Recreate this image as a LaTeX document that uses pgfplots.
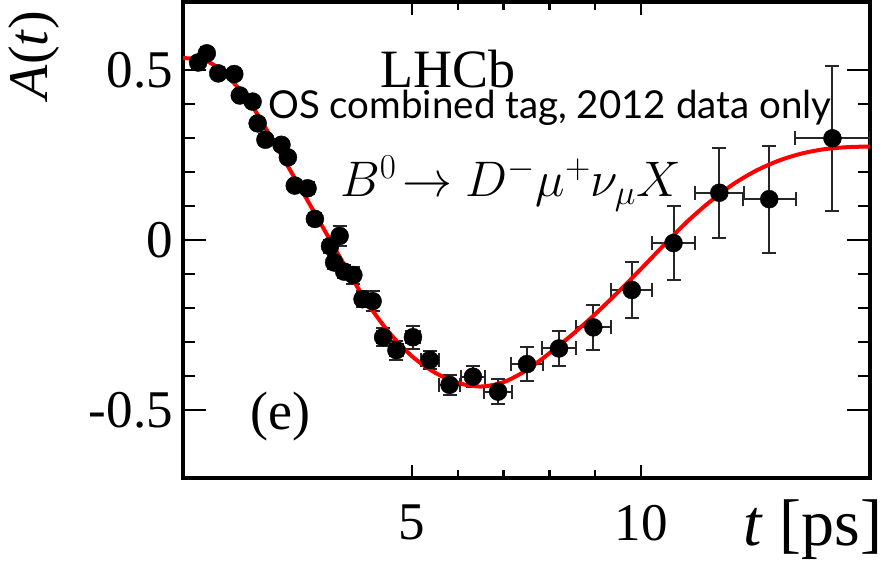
\RequirePackage{fix-cm}
\documentclass[border=0pt]{standalone}
\usepackage{fontspec}
\setmainfont{Liberation Serif}
\newfontfamily\serif{Liberation Serif}
\newfontfamily\osfont{Lato}
\usepackage{pgfplots}
\usepackage{pgfplotstable}
\pgfplotsset{compat=1.18}

\pgfplotstableread{
t     A       ex     ey
0.33  0.522   0.12   0.015
0.52  0.549   0.12   0.015
0.77  0.490   0.12   0.015
1.12  0.488   0.12   0.015
1.24  0.425   0.10   0.015
1.52  0.407   0.10   0.015
1.63  0.343   0.10   0.015
1.80  0.295   0.10   0.016
2.15  0.280   0.10   0.016
2.29  0.243   0.10   0.017
2.44  0.160   0.10   0.017
2.72  0.152   0.10   0.018
2.88  0.062   0.10   0.018
3.21  -0.018  0.10   0.019
3.30  -0.066  0.10   0.020
3.42  0.012   0.10   0.030
3.52  -0.093  0.10   0.020
3.72  -0.103  0.12   0.025
3.92  -0.174  0.12   0.023
4.14  -0.180  0.12   0.030
4.37  -0.286  0.13   0.026
4.66  -0.324  0.14   0.028
5.02  -0.286  0.15   0.034
5.39  -0.353  0.20   0.027
5.82  -0.426  0.22   0.030
6.33  -0.402  0.27   0.030
6.88  -0.446  0.31   0.037
7.51  -0.365  0.34   0.049
8.21  -0.319  0.37   0.051
8.96  -0.257  0.38   0.067
9.80  -0.147  0.45   0.082
10.71 -0.009  0.46   0.110
11.71 0.139   0.53   0.132
12.80 0.120   0.58   0.157
14.18 0.299   0.81   0.213
}\datatable

\pgfplotstableread{
t     A
0.0   0.535
0.25  0.533
0.5   0.527
0.75  0.508
1.0   0.478
1.25  0.440
1.5   0.397
2.0   0.284
2.5   0.168
3.0   0.050
3.5   -0.068
4.0   -0.180
4.5   -0.272
5.0   -0.342
5.5   -0.390
6.0   -0.420
6.5   -0.431
7.0   -0.418
7.5   -0.383
8.0   -0.333
8.5   -0.278
9.0   -0.218
9.5   -0.153
10.0  -0.085
10.5  -0.015
11.0  0.053
11.5  0.112
12.0  0.163
12.5  0.203
13.0  0.233
13.5  0.254
14.0  0.267
14.5  0.273
15.0  0.275
}\fittable

\begin{document}
\begin{tikzpicture}
\begin{axis}[
  scale only axis,
  width=687pt, height=476pt,
  xmin=0, xmax=15, ymin=-0.7, ymax=0.7,
  xtick={5,10}, ytick={-0.5,0,0.5},
  minor x tick num=4, minor y tick num=4,
  tick align=inside,
  major tick length=23pt, minor tick length=12pt,
  xtick style={/pgfplots/major tick length=13pt, /pgfplots/minor tick length=8pt},
  every tick/.style={black, line width=2.5pt},
  axis line style={line width=4pt, black},
  /pgf/number format/assume math mode=true,
  ticklabel style={font=\serif\fontsize{53}{53}\selectfont, inner sep=0pt},
  xticklabel style={yshift=-27pt},
  yticklabel style={xshift=-10pt},
  clip=true,
]
\addplot[only marks, mark=*, mark size=9pt, black,
  error bars/.cd, x dir=both, x explicit, y dir=both, y explicit,
  error bar style={line width=2pt, black!85},
  error mark options={rotate=90, line width=2pt, mark size=7pt, black!85}]
  table[x=t, y=A, x error=ex, y error=ey]{\datatable};
\addplot[red, line width=4pt, smooth, no marks] table[x=t, y=A]{\fittable};
\end{axis}
\node[anchor=base west, inner sep=0pt, font=\serif\fontsize{66}{66}\selectfont] at (560pt,-68pt) {\textit{t} [ps]};
\node[rotate=90, anchor=base, inner sep=0pt, font=\serif\fontsize{56}{56}\selectfont] at (-135pt,423pt) {\textit{A}(\textit{t})};
\node[anchor=base west, inner sep=0pt, font=\serif\fontsize{54}{54}\selectfont] at (197pt,390pt) {LHCb};
\node[anchor=base west, inner sep=0pt, font=\fontsize{50}{50}\selectfont] at (157pt,281pt) {$B^0\!\rightarrow D^-\mu^+\nu_\mu X$};
\node[anchor=base west, inner sep=0pt, font=\serif\fontsize{54}{54}\selectfont] at (67pt,48pt) {(e)};
\node[anchor=base west, inner sep=0pt, font=\osfont\fontsize{38.5}{38.5}\selectfont] at (85pt,359pt) {OS combined tag, 2012 data only};
\pgfresetboundingbox
\path[use as bounding box] (-183pt,-89pt) rectangle (712pt,478pt);
\end{tikzpicture}
\end{document}
